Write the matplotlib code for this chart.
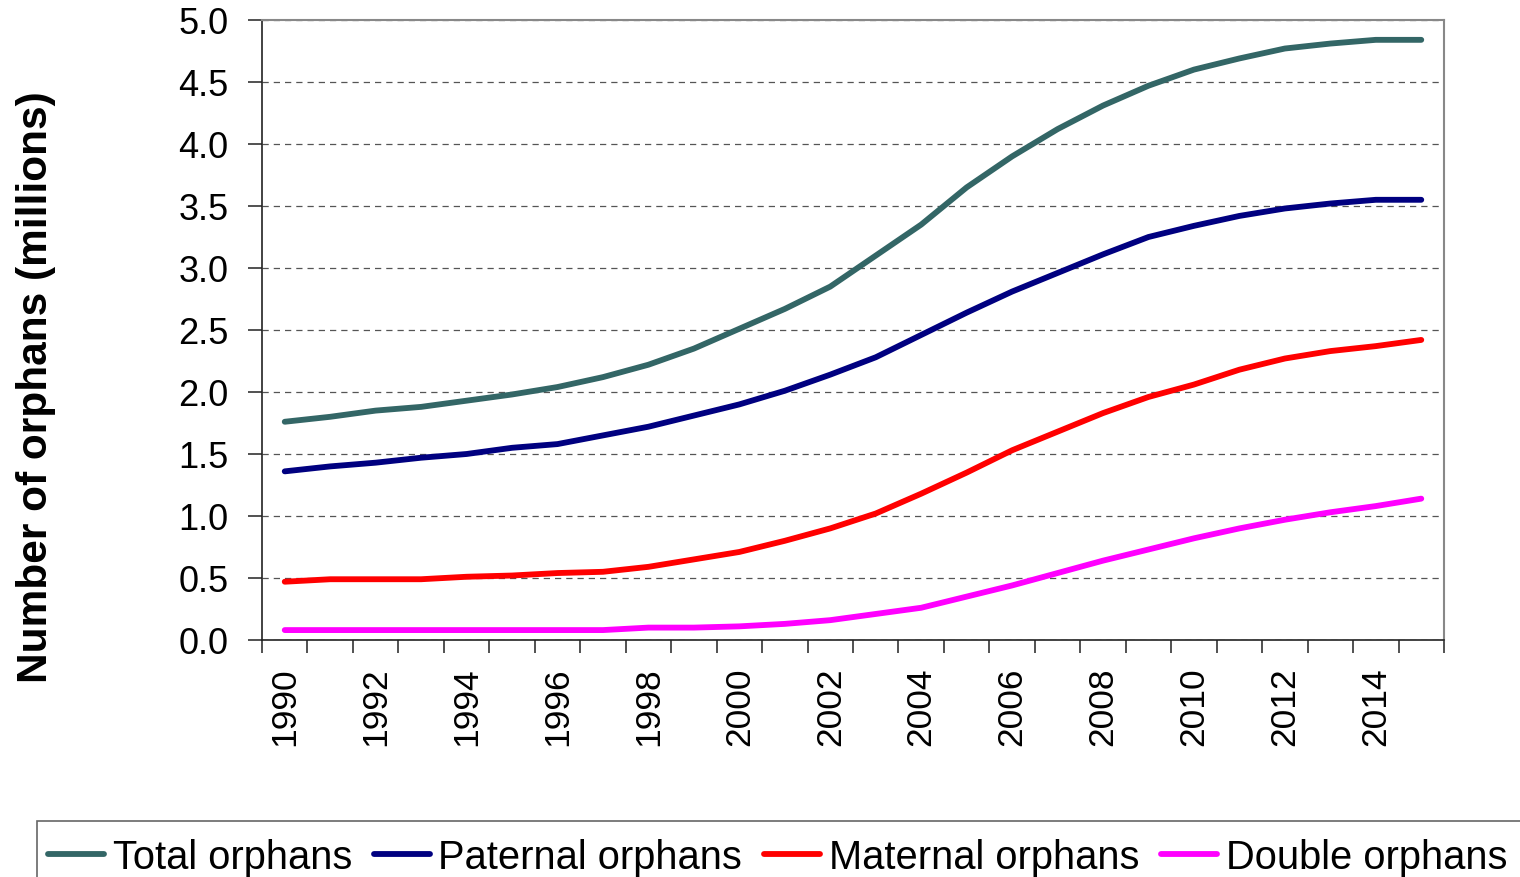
import matplotlib
matplotlib.use("Agg")
import matplotlib.pyplot as plt
from matplotlib.patches import Rectangle
import numpy as np

years = list(range(1990, 2016))
total = [1.76, 1.80, 1.85, 1.88, 1.93, 1.98, 2.04, 2.12, 2.22, 2.35, 2.51, 2.67, 2.85,
         3.10, 3.35, 3.65, 3.90, 4.12, 4.31, 4.47, 4.60, 4.69, 4.77, 4.81, 4.84, 4.84]
paternal = [1.36, 1.40, 1.43, 1.47, 1.50, 1.55, 1.58, 1.65, 1.72, 1.81, 1.90, 2.01, 2.14,
            2.28, 2.46, 2.64, 2.81, 2.96, 3.11, 3.25, 3.34, 3.42, 3.48, 3.52, 3.55, 3.55]
maternal = [0.47, 0.49, 0.49, 0.49, 0.51, 0.52, 0.54, 0.55, 0.59, 0.65, 0.71, 0.80, 0.90,
            1.02, 1.18, 1.35, 1.53, 1.68, 1.83, 1.96, 2.06, 2.18, 2.27, 2.33, 2.37, 2.42]
double = [0.08, 0.08, 0.08, 0.08, 0.08, 0.08, 0.08, 0.08, 0.10, 0.10, 0.11, 0.13, 0.16,
          0.21, 0.26, 0.35, 0.44, 0.54, 0.64, 0.73, 0.82, 0.90, 0.97, 1.03, 1.08, 1.14]

series = [("Total orphans", total, "#336666"),
          ("Paternal orphans", paternal, "#000080"),
          ("Maternal orphans", maternal, "#FF0000"),
          ("Double orphans", double, "#FF00FF")]

plt.rcParams['font.family'] = ['Liberation Sans', 'DejaVu Sans']

W, H = 1520, 878
fig = plt.figure(figsize=(W/100, H/100), dpi=100)
ax = fig.add_axes([262/W, 1-641/H, (1444-262)/W, (641-21)/H])

x = np.arange(len(years))
handles = []
for name, vals, col in series:
    h, = ax.plot(x, vals, color=col, lw=4.2, solid_capstyle='round',
                 solid_joinstyle='round', label=name)
    handles.append(h)

ax.set_xlim(-0.5, len(years) - 0.5)
ax.set_ylim(0, 5.0)
yt = np.arange(0, 5.01, 0.5)
ax.set_yticks(yt)
ax.set_yticklabels([f"{v:.1f}" for v in yt], fontsize=26)
ax.yaxis.grid(True, linestyle=(0, (5, 4)), color='#555555', lw=0.9)
ax.set_axisbelow(True)

ax.set_xticks(x[::2])
ax.set_xticklabels([str(y) for y in years[::2]], rotation=90, fontsize=25.5)
ax.set_xticks(np.arange(-0.5, len(years), 1.0), minor=True)
ax.tick_params(axis='x', which='major', length=0, pad=19)
ax.tick_params(axis='x', which='minor', length=9, width=1.2, color='#333333')
ax.tick_params(axis='y', which='major', length=10, width=1.2, color='#333333', pad=14)

for s in ['top', 'right']:
    ax.spines[s].set_color('#888888')
    ax.spines[s].set_linewidth(1.5)
for s in ['left', 'bottom']:
    ax.spines[s].set_color('#222222')
    ax.spines[s].set_linewidth(1.2)

ax.set_ylabel("Number of orphans (millions)", fontsize=30.5, fontweight='bold')
ax.yaxis.set_label_coords((56-262)/1182, 1-(387-21)/620)

# legend frame (clipped by figure edges like the reference)
fig.patches.append(Rectangle((37/W, -0.05), 1.2, 1-822/H+0.05, transform=fig.transFigure,
                             fill=False, edgecolor='#666666', lw=1.2))

leg = fig.legend(handles=handles, loc='upper left', bbox_to_anchor=(48/W, 1-839/H),
                 ncol=4, fontsize=28.7, frameon=False,
                 handlelength=1.4, handletextpad=0.22, columnspacing=0.55,
                 borderpad=0, borderaxespad=0)

fig.savefig("out.png", dpi=100)
